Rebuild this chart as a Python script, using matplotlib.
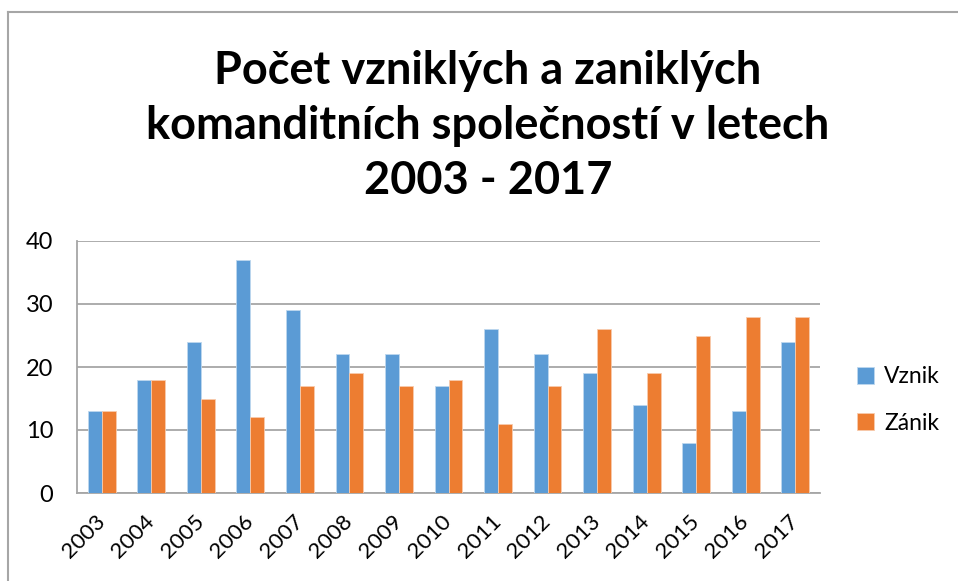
import matplotlib
matplotlib.use("Agg")
import matplotlib.pyplot as plt
import numpy as np

years = ["2003", "2004", "2005", "2006", "2007", "2008", "2009", "2010",
         "2011", "2012", "2013", "2014", "2015", "2016", "2017"]
vznik = [13, 18, 24, 37, 29, 22, 22, 17, 26, 22, 19, 14, 8, 13, 24]
zanik = [13, 18, 15, 12, 17, 19, 17, 18, 11, 17, 26, 19, 25, 28, 28]
title = "Počet vzniklých a zaniklých\nkomanditních společností v letech\n2003 - 2017"

plt.rcParams['font.family'] = ['Lato', 'DejaVu Sans']

fig = plt.figure(figsize=(9.58, 5.81), dpi=100)
ax = fig.add_axes([77/958, 1-493/581, (820-77)/958, (493-241)/581])

x = np.arange(len(years))
w = 0.28
ax.bar(x - w/2, vznik, w, color="#5B9BD5", edgecolor="#BDD7EE", linewidth=0.6, label="Vznik", zorder=3)
ax.bar(x + w/2, zanik, w, color="#ED7D31", edgecolor="#F8CBAD", linewidth=0.6, label="Zánik", zorder=3)

ax.set_xlim(-0.5, len(years) - 0.5)
ax.set_ylim(0, 40)
ax.set_yticks([0, 10, 20, 30, 40])
ax.yaxis.grid(True, color="#A6A6A6", linewidth=1.3, zorder=0)
ax.set_axisbelow(True)
for s in ["top", "right"]:
    ax.spines[s].set_visible(False)
ax.spines["left"].set_color("#A6A6A6")
ax.spines["left"].set_linewidth(1.3)
ax.spines["bottom"].set_color("#A6A6A6")
ax.spines["bottom"].set_linewidth(1.3)
ax.tick_params(axis="y", length=0, labelsize=17, colors="black", pad=17)
ax.set_xticks(x)
ax.set_xticklabels(years, rotation=45, ha="right", va="center", rotation_mode="anchor")
ax.tick_params(axis="x", length=0, labelsize=16, colors="black", pad=18)

fig.text(488/958, 1-126/581, title, ha="center", va="center", fontsize=32.5,
         fontweight="bold", linespacing=1.38)

ax.legend(loc="center left", bbox_to_anchor=(836/958, 1-400/581), bbox_transform=fig.transFigure,
          frameon=False, fontsize=16.5, handlelength=0.75, handleheight=0.75, labelspacing=1.1,
          handletextpad=0.45)

# chart border
fig.add_artist(plt.Line2D([8/958, 8/958], [0, 1-12/581], transform=fig.transFigure,
                          color="#A6A6A6", linewidth=1.5))
fig.add_artist(plt.Line2D([8/958, 1], [1-12/581, 1-12/581], transform=fig.transFigure,
                          color="#A6A6A6", linewidth=1.5))

fig.savefig("out.png", dpi=100)
